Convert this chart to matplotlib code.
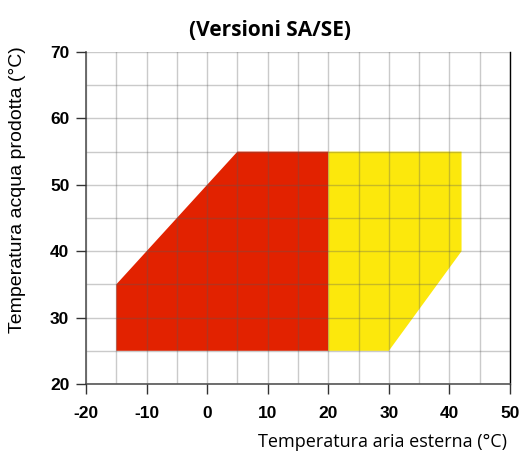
import matplotlib
matplotlib.use("Agg")
import matplotlib.pyplot as plt
from matplotlib.patches import Polygon

# Data: operating envelopes (x = outdoor air temp, y = produced water temp)
red_x = [-15, -15, 5, 20, 20]
red_y = [25, 35, 55, 55, 25]
yellow_x = [20, 20, 42, 42, 30]
yellow_y = [25, 55, 55, 40, 25]

x_ticks = [-20, -10, 0, 10, 20, 30, 40, 50]
y_ticks = [20, 30, 40, 50, 60, 70]

fig = plt.figure(figsize=(5.25, 4.53), dpi=100)
ax = fig.add_axes([86/525, 1-384/453, (510-86)/525, (384-52)/453])

ax.add_patch(Polygon(list(zip(red_x, red_y)), closed=True, facecolor="#E22200", edgecolor="none", zorder=1))
ax.add_patch(Polygon(list(zip(yellow_x, yellow_y)), closed=True, facecolor="#FCE80C", edgecolor="none", zorder=1))

ax.set_xlim(-20, 50)
ax.set_ylim(20, 70)
ax.set_xticks(x_ticks)
ax.set_yticks(y_ticks)
ax.set_xticks(range(-20, 51, 5), minor=True)
ax.set_yticks(range(20, 71, 5), minor=True)
ax.grid(True, which="both", color="#5a5a5a", alpha=0.32, linewidth=1.0, zorder=2)
ax.set_axisbelow(False)

ax.set_xticklabels([str(v) for v in x_ticks], fontfamily="Liberation Sans", fontweight="bold", fontsize=12.5)
ax.set_yticklabels([str(v) for v in y_ticks], fontfamily="Liberation Sans", fontweight="bold", fontsize=12.5)
ax.tick_params(axis="both", which="major", direction="out", length=7, width=1, color="#333333")
ax.tick_params(axis="both", which="minor", length=0)
ax.tick_params(axis="x", pad=9)
ax.tick_params(axis="y", pad=5)

for s in ["left", "bottom"]:
    ax.spines[s].set_color("#555555")
    ax.spines[s].set_linewidth(1.2)
ax.spines["right"].set_color("#000000")
ax.spines["right"].set_linewidth(1.0)
ax.spines["top"].set_visible(False)

fig.text(270/525, 1-30/453, "(Versioni SA/SE)", ha="center", va="center",
         fontfamily="Open Sans", fontweight="bold", fontsize=15)
fig.text(507/525, 1-442/453, "Temperatura aria esterna (°C)", ha="right", va="center",
         fontfamily="Open Sans", fontsize=13)
fig.text(18/525, 1-190/453, "Temperatura acqua prodotta (°C)", ha="center", va="center",
         rotation=90, fontfamily="Liberation Sans", fontsize=14)

fig.savefig("out.png", dpi=100)
